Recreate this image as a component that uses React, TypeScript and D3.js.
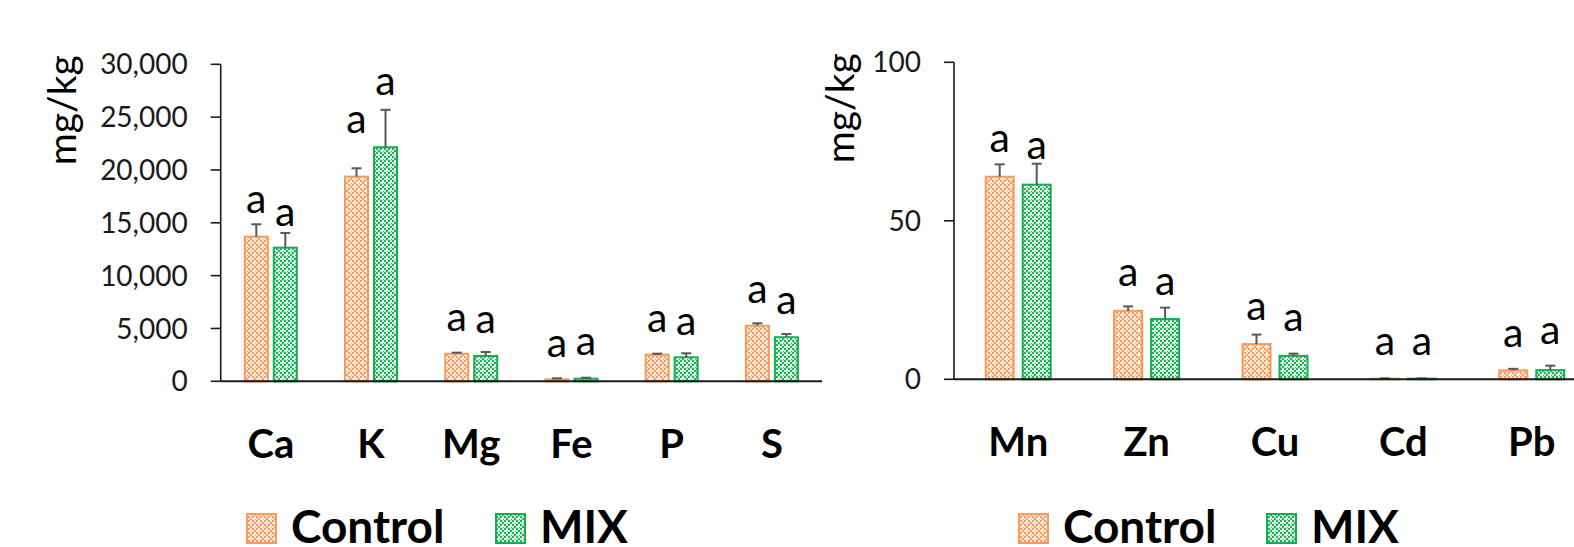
import React from 'react';
import * as d3 from 'd3';

// left panel - macro elements
const macroCats = ['Ca', 'K', 'Mg', 'Fe', 'P', 'S'];
const macroControl = [13690, 19370, 2610, 190, 2520, 5260];
const macroMix = [12650, 22150, 2400, 250, 2270, 4170];
const macroControlErr = [1170, 790, 100, 90, 95, 230];
const macroMixErr = [1390, 3540, 370, 90, 380, 310];
const macroLetterCtrl = [15900, 23530, 4760, 2330, 4700, 7380];
const macroLetterMix = [14730, 27100, 4540, 2490, 4380, 6370];
const macroTicks = [0, 5000, 10000, 15000, 20000, 25000, 30000];

// right panel - trace elements
const traceCats = ['Mn', 'Zn', 'Cu', 'Cd', 'Pb'];
const traceControl = [63.9, 21.6, 11.1, 0.2, 2.8];
const traceMix = [61.4, 19.0, 7.4, 0.2, 2.9];
const traceControlErr = [3.9, 1.4, 3.0, 0.1, 0.5];
const traceMixErr = [6.6, 3.6, 0.7, 0.1, 1.4];
const traceLetterCtrl = [71.7, 29.3, 18.8, 7.7, 10.3];
const traceLetterMix = [69.4, 26.7, 15.1, 7.7, 11.1];
const traceTicks = [0, 50, 100];

const letters = 'a';
const seriesNames = ['Control', 'MIX'];

const ORANGE = '#F89A5B';
const ORANGE_FILL = '#FB9B5E';
const ORANGE_BG = '#FFE4D2';
const GREEN = '#14AD52';
const GREEN_FILL = '#23B35C';
const GREEN_BG = '#CDEFD9';
const FONT = 'Lato, "Open Sans", sans-serif';

const Patterns = () => (
  <defs>
    {[
      ['patCtrl', ORANGE_FILL, ORANGE_BG],
      ['patMix', GREEN_FILL, GREEN_BG],
    ].map(([id, c, bg]) => (
      <pattern key={id} id={id} width={8} height={8} patternUnits="userSpaceOnUse">
        <rect width={8} height={8} fill={bg} />
        {[0, 2, 4, 6].map((i) =>
          [0, 2, 4, 6]
            .filter((j) => ((i + j) / 2) % 2 === 0)
            .map((j) => <rect key={i + '-' + j} x={i} y={j} width={2} height={2} fill={c} />)
        )}
        {/* little white crosses */}
        <rect x={1} y={2} width={3} height={1} fill="#fff" />
        <rect x={2} y={1} width={1} height={3} fill="#fff" />
        <rect x={5} y={6} width={3} height={1} fill="#fff" />
        <rect x={6} y={5} width={1} height={3} fill="#fff" />
      </pattern>
    ))}
  </defs>
);

type PanelProps = {
  cats: string[];
  control: number[];
  mix: number[];
  controlErr: number[];
  mixErr: number[];
  letterCtrl: number[];
  letterMix: number[];
  ticks: number[];
  x0: number;
  x1: number;
  yTop: number;
  yBottom: number;
  barW: number;
  gap: number;
  tickFmt: (v: number) => string;
  titleX: number;
};

function Panel(p: PanelProps) {
  const x = d3.scaleBand().domain(p.cats).range([p.x0, p.x1]);
  const y = d3
    .scaleLinear()
    .domain([0, p.ticks[p.ticks.length - 1]])
    .range([p.yBottom, p.yTop]);
  const series = [
    { vals: p.control, err: p.controlErr, lab: p.letterCtrl, fill: 'url(#patCtrl)', stroke: ORANGE, off: -p.gap / 2 - p.barW },
    { vals: p.mix, err: p.mixErr, lab: p.letterMix, fill: 'url(#patMix)', stroke: GREEN, off: p.gap / 2 },
  ];
  return (
    <g>
      {/* bars */}
      {series.map((s, si) =>
        p.cats.map((c, i) => {
          const cx = (x(c) as number) + x.bandwidth() / 2 + s.off;
          const top = y(s.vals[i]);
          const errTop = y(s.vals[i] + s.err[i]);
          const mid = cx + p.barW / 2;
          return (
            <g key={si + c}>
              <rect x={cx + 1} y={top} width={p.barW - 2} height={Math.max(p.yBottom - top, 0.5)} fill={s.fill} stroke={s.stroke} strokeWidth={2} />
              <line x1={mid} x2={mid} y1={top} y2={errTop} stroke="#595959" strokeWidth={2} />
              <line x1={mid - 5} x2={mid + 5} y1={errTop} y2={errTop} stroke="#595959" strokeWidth={2} />
              <text x={mid} y={y(s.lab[i])} textAnchor="middle" fontFamily={FONT} fontSize={41} fill="#000">
                {letters}
              </text>
            </g>
          );
        })
      )}
      {/* y axis */}
      <line x1={p.x0} x2={p.x0} y1={p.yTop} y2={p.yBottom} stroke="#1a1a1a" strokeWidth={1.6} />
      {p.ticks.map((t) => (
        <g key={t}>
          <line x1={p.x0 - 10} x2={p.x0} y1={y(t)} y2={y(t)} stroke="#1a1a1a" strokeWidth={1.6} />
          <text x={p.x0 - 33} y={y(t)} dy="0.36em" textAnchor="end" fontFamily={FONT} fontSize={28} fill="#1a1a1a">
            {p.tickFmt(t)}
          </text>
        </g>
      ))}
      {/* x axis */}
      <line x1={p.x0} x2={p.x1} y1={p.yBottom} y2={p.yBottom} stroke="#1a1a1a" strokeWidth={2} />
      {p.cats.map((c) => (
        <text key={c} x={(x(c) as number) + x.bandwidth() / 2} y={p.yBottom + 77} textAnchor="middle" fontFamily={FONT} fontWeight="bold" fontSize={40} fill="#000">
          {c}
        </text>
      ))}
      <text transform={`translate(${p.titleX},${(p.yTop + 46)}) rotate(-90)`} textAnchor="middle" dy="0.35em" fontFamily={FONT} fontSize={39} fill="#000">
        mg/kg
      </text>
    </g>
  );
}

function Legend({ x, gap }: { x: number; gap: number }) {
  const fills = ['url(#patCtrl)', 'url(#patMix)'];
  const strokes = [ORANGE, GREEN];
  const starts = [x, x + gap];
  return (
    <g>
      {seriesNames.map((n, i) => (
        <g key={n}>
          <rect x={starts[i] + 1} y={514} width={29} height={29} fill={fills[i]} stroke={strokes[i]} strokeWidth={2} />
          <text x={starts[i] + 45} y={543} fontFamily={FONT} fontWeight="bold" fontSize={46} fill="#000">
            {n}
          </text>
        </g>
      ))}
    </g>
  );
}

export default function App() {
  return (
    <svg width={1574} height={547} style={{ position: 'absolute', left: 0, top: 0, background: '#fff' }}>
      <Patterns />
      <Panel
        cats={macroCats}
        control={macroControl}
        mix={macroMix}
        controlErr={macroControlErr}
        mixErr={macroMixErr}
        letterCtrl={macroLetterCtrl}
        letterMix={macroLetterMix}
        ticks={macroTicks}
        x0={220.7}
        x1={822}
        yTop={64.3}
        yBottom={381.3}
        barW={25}
        gap={4}
        tickFmt={d3.format(',')}
        titleX={62}
      />
      <Panel
        cats={traceCats}
        control={traceControl}
        mix={traceMix}
        controlErr={traceControlErr}
        mixErr={traceMixErr}
        letterCtrl={traceLetterCtrl}
        letterMix={traceLetterMix}
        ticks={traceTicks}
        x0={954}
        x1={1596}
        yTop={62.3}
        yBottom={379.3}
        barW={30}
        gap={7}
        tickFmt={d3.format('d')}
        titleX={840}
      />
      <Legend x={246} gap={249} />
      <Legend x={1018} gap={248} />
    </svg>
  );
}
